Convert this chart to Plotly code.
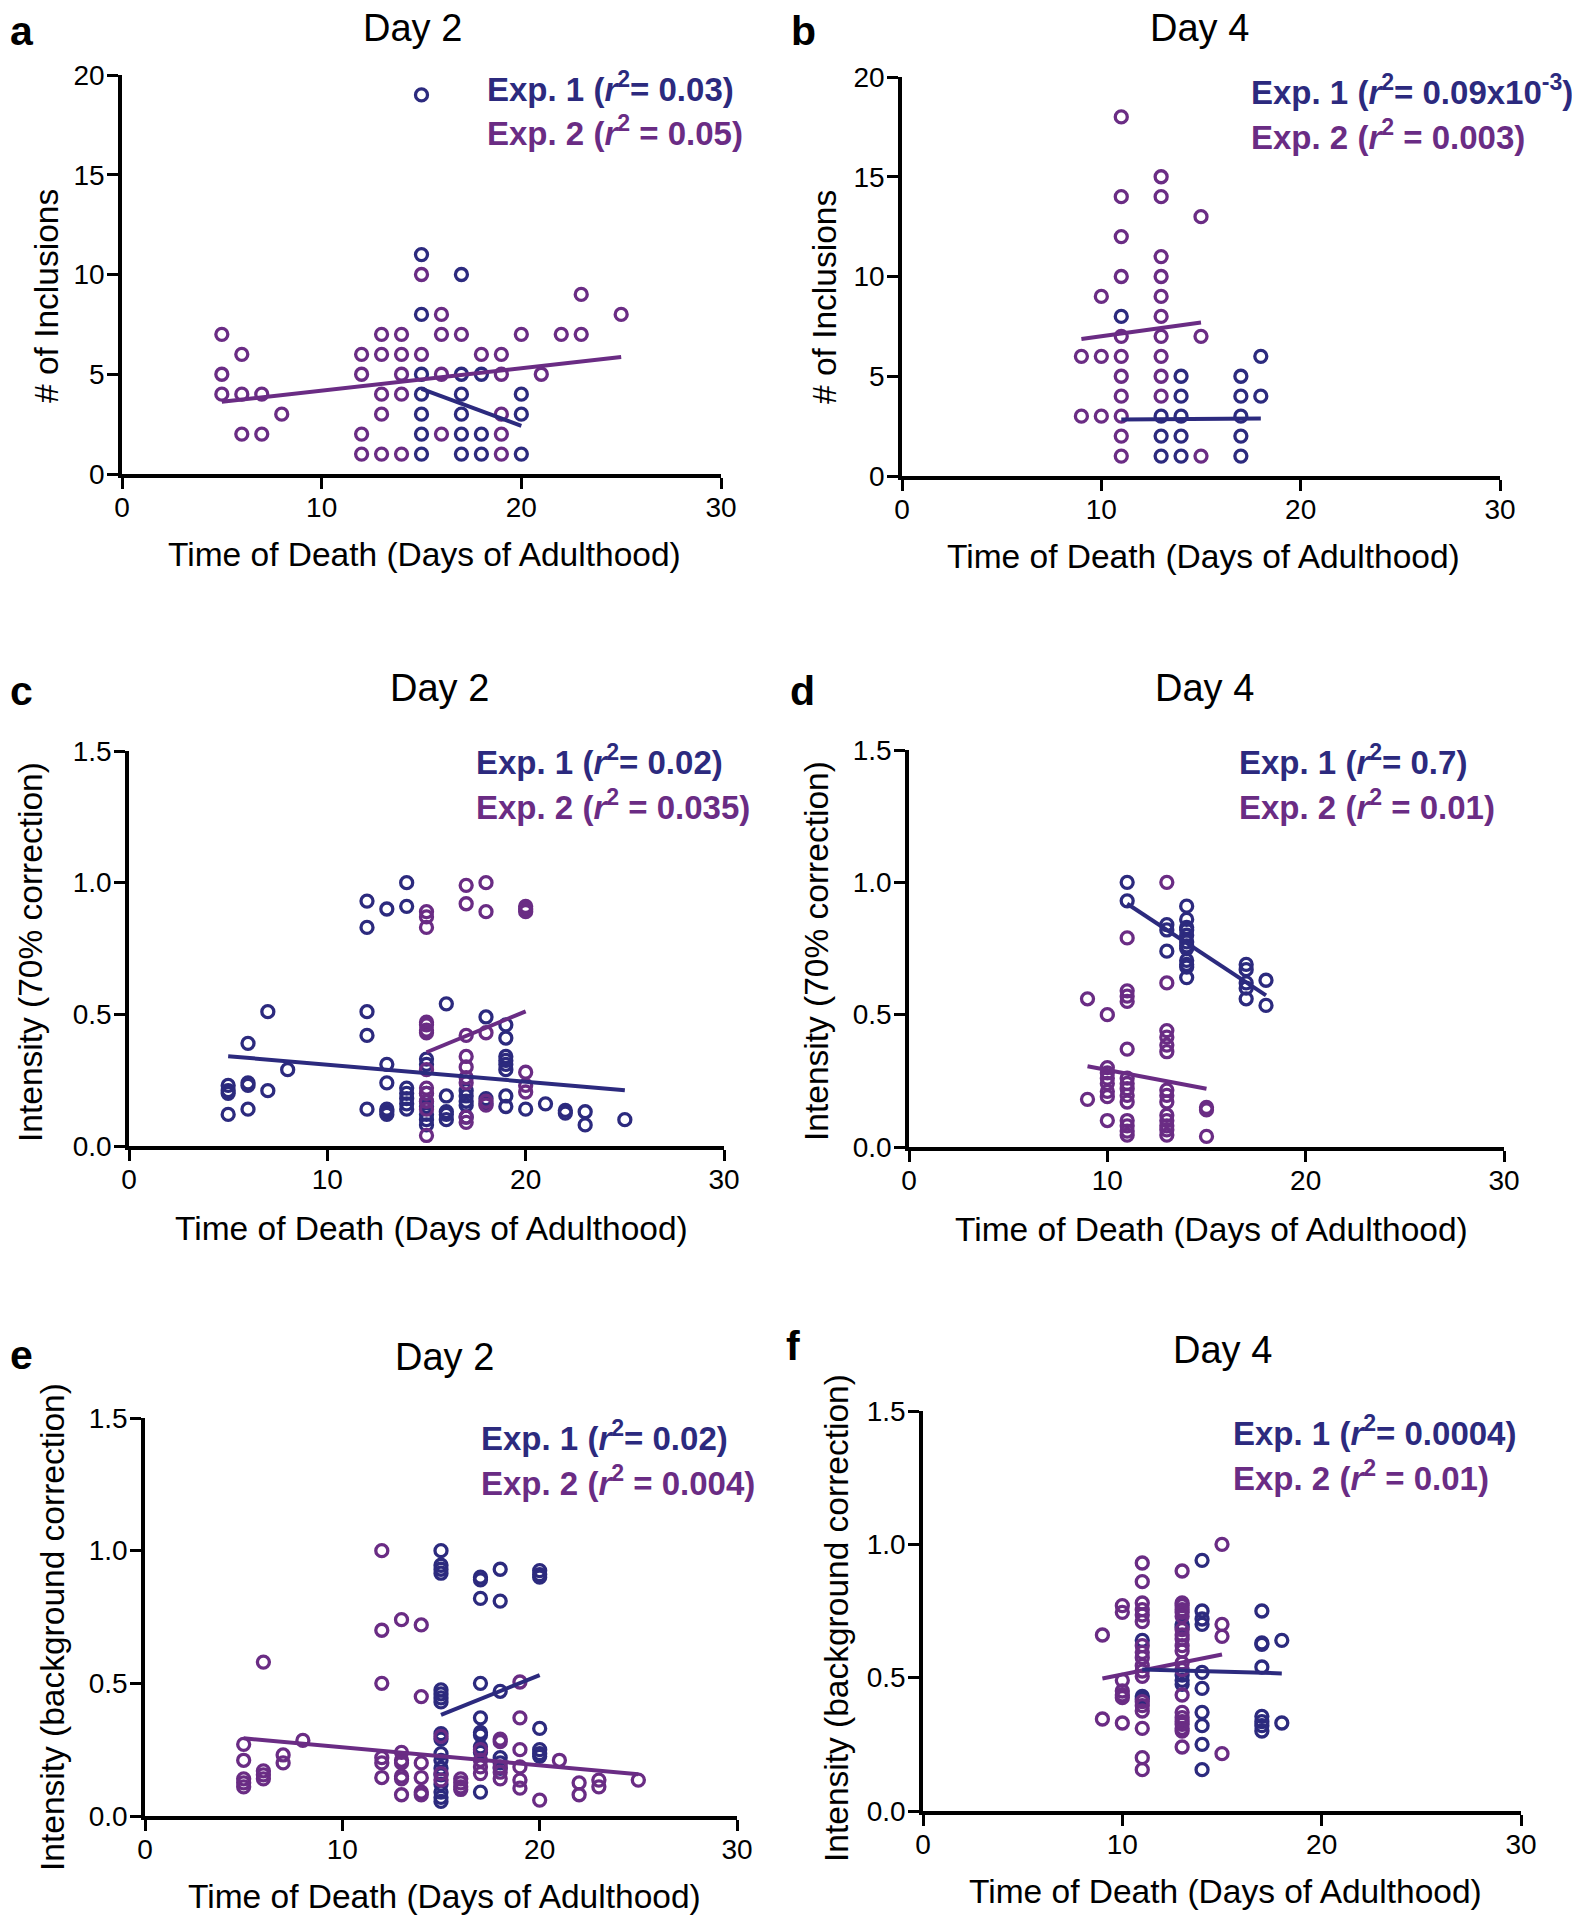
import plotly.graph_objects as go

# ---------------- data ----------------
X_TICKS = [0, 10, 20, 30]
Y_TICKS_COUNT = [0, 5, 10, 15, 20]
Y_TICKS_INT = [0.0, 0.5, 1.0, 1.5]
Y_TICKTEXT_INT = ["0.0", "0.5", "1.0", "1.5"]

# Panel a (Day 2, # of inclusions)
A1_X = [15, 15, 15, 15, 15, 15, 15, 15, 17, 17, 17, 17, 17, 17, 18, 18, 18, 20, 20, 20]
A1_Y = [19, 11, 8, 5, 4, 3, 2, 1, 10, 5, 4, 3, 2, 1, 5, 2, 1, 4, 3, 1]
A2_X = [5, 5, 5, 6, 6, 6, 7, 7, 8, 12, 12, 12, 12, 13, 13, 13, 13, 13, 14, 14, 14, 14, 14,
        15, 15, 16, 16, 16, 16, 17, 18, 19, 19, 19, 19, 19, 20, 21, 22, 23, 23, 25]
A2_Y = [7, 5, 4, 6, 4, 2, 4, 2, 3, 6, 5, 2, 1, 7, 6, 4, 3, 1, 7, 6, 5, 4, 1,
        10, 6, 8, 7, 5, 2, 7, 6, 6, 5, 3, 2, 1, 7, 5, 7, 9, 7, 8]
A1_FIT_X = [15, 20]
A1_FIT_Y = [4.27, 2.41]
A2_FIT_X = [5, 25]
A2_FIT_Y = [3.62, 5.86]

# Panel b (Day 4, # of inclusions)
B1_X = [11, 13, 13, 13, 14, 14, 14, 14, 14, 17, 17, 17, 17, 17, 18, 18]
B1_Y = [8, 3, 2, 1, 5, 4, 3, 2, 1, 5, 4, 3, 2, 1, 6, 4]
B2_X = [9, 9, 10, 10, 10, 11, 11, 11, 11, 11, 11, 11, 11, 11, 11, 11,
        13, 13, 13, 13, 13, 13, 13, 13, 13, 13, 15, 15, 15]
B2_Y = [6, 3, 9, 6, 3, 18, 14, 12, 10, 7, 6, 5, 4, 3, 2, 1,
        15, 14, 11, 10, 9, 8, 7, 6, 5, 4, 13, 7, 1]
B1_FIT_X = [11, 18]
B1_FIT_Y = [2.83, 2.88]
B2_FIT_X = [9, 15]
B2_FIT_Y = [6.87, 7.69]

# Panel c (Day 2, intensity 70% correction)
C1_X = [5, 5, 5, 5, 6, 6, 6, 6, 7, 7, 8,
        12, 12, 12, 12, 12, 13, 13, 13, 13, 13, 13,
        14, 14, 14, 14, 14, 14, 14, 15, 15, 15, 15, 15, 15, 15, 15,
        16, 16, 16, 16, 16, 17, 17, 17, 17, 17, 18, 18, 18,
        19, 19, 19, 19, 19, 19, 19, 19, 20, 21, 22, 22, 23, 23, 25]
C1_Y = [0.23, 0.21, 0.20, 0.12, 0.39, 0.24, 0.23, 0.14, 0.51, 0.21, 0.29,
        0.93, 0.83, 0.51, 0.42, 0.14, 0.90, 0.31, 0.24, 0.14, 0.13, 0.12,
        1.00, 0.91, 0.22, 0.20, 0.18, 0.16, 0.14, 0.33, 0.31, 0.20, 0.17, 0.15, 0.12, 0.10, 0.08,
        0.54, 0.19, 0.13, 0.12, 0.10, 0.21, 0.19, 0.17, 0.155, 0.11, 0.49, 0.18, 0.16,
        0.46, 0.41, 0.34, 0.325, 0.31, 0.29, 0.19, 0.15, 0.14, 0.16, 0.135, 0.125, 0.13, 0.08, 0.10]
C2_X = [15, 15, 15, 15, 15, 15, 15, 15, 15, 15, 15, 15, 15,
        17, 17, 17, 17, 17, 17, 17, 17, 17,
        18, 18, 18, 18, 18, 20, 20, 20, 20, 20, 20]
C2_Y = [0.89, 0.87, 0.83, 0.47, 0.46, 0.44, 0.43, 0.29, 0.22, 0.20, 0.17, 0.14, 0.04,
        0.99, 0.92, 0.42, 0.34, 0.30, 0.26, 0.24, 0.11, 0.09,
        1.00, 0.89, 0.43, 0.17, 0.155, 0.91, 0.90, 0.89, 0.28, 0.23, 0.205]
C1_FIT_X = [5, 25]
C1_FIT_Y = [0.341, 0.212]
C2_FIT_X = [15, 20]
C2_FIT_Y = [0.356, 0.511]

# Panel d (Day 4, intensity 70% correction)
D1_X = [11, 11, 13, 13, 13, 14, 14, 14, 14, 14, 14, 14, 14, 14, 14, 14, 14,
        17, 17, 17, 17, 17, 18, 18]
D1_Y = [1.00, 0.93, 0.84, 0.82, 0.74, 0.91, 0.86, 0.83, 0.82, 0.80, 0.775, 0.76, 0.75, 0.705, 0.69, 0.68, 0.64,
        0.69, 0.67, 0.62, 0.60, 0.56, 0.63, 0.535]
D2_X = [9, 9, 10, 10, 10, 10, 10, 10, 10, 10,
        11, 11, 11, 11, 11, 11, 11, 11, 11, 11, 11, 11, 11, 11,
        13, 13, 13, 13, 13, 13, 13, 13, 13, 13, 13, 13, 13, 13, 15, 15, 15]
D2_Y = [0.56, 0.18, 0.50, 0.30, 0.28, 0.26, 0.24, 0.21, 0.19, 0.10,
        0.79, 0.59, 0.57, 0.55, 0.37, 0.26, 0.24, 0.22, 0.195, 0.17, 0.10, 0.08, 0.06, 0.045,
        1.00, 0.62, 0.44, 0.415, 0.385, 0.36, 0.215, 0.195, 0.17, 0.12, 0.10, 0.08, 0.065, 0.045,
        0.15, 0.14, 0.04]
D1_FIT_X = [11, 18]
D1_FIT_Y = [0.919, 0.573]
D2_FIT_X = [9, 15]
D2_FIT_Y = [0.305, 0.22]

# Panel e (Day 2, intensity background correction)
E1_X = [15] * 18 + [17] * 10 + [18] * 6 + [20] * 7
E1_Y = [1.00, 0.945, 0.93, 0.915, 0.475, 0.46, 0.445, 0.43, 0.31, 0.29, 0.235, 0.21, 0.18, 0.155, 0.12, 0.09, 0.07, 0.055,
        0.90, 0.89, 0.82, 0.50, 0.37, 0.315, 0.305, 0.26, 0.24, 0.09,
        0.93, 0.81, 0.47, 0.22, 0.20, 0.18,
        0.925, 0.91, 0.90, 0.33, 0.25, 0.235, 0.225]
E2_X = [5, 5, 5, 5, 5, 6, 6, 6, 6, 7, 7, 8,
        12, 12, 12, 12, 12, 12, 13, 13, 13, 13, 13, 13, 13,
        14, 14, 14, 14, 14, 14, 15, 15, 15, 16, 16, 16, 16,
        17, 17, 17, 17, 18, 18, 18, 18, 18, 19, 19, 19, 19, 19, 19,
        20, 21, 22, 22, 23, 23, 25]
E2_Y = [0.27, 0.21, 0.14, 0.125, 0.11, 0.58, 0.17, 0.155, 0.14, 0.23, 0.20, 0.285,
        1.00, 0.70, 0.50, 0.22, 0.20, 0.145, 0.74, 0.24, 0.21, 0.20, 0.15, 0.14, 0.08,
        0.72, 0.45, 0.20, 0.145, 0.09, 0.08, 0.30, 0.16, 0.135, 0.14, 0.125, 0.11, 0.10,
        0.25, 0.21, 0.185, 0.16, 0.29, 0.28, 0.185, 0.165, 0.14, 0.505, 0.37, 0.25, 0.185, 0.135, 0.105,
        0.06, 0.21, 0.125, 0.08, 0.135, 0.11, 0.135]
E1_FIT_X = [15, 20]
E1_FIT_Y = [0.381, 0.531]
E2_FIT_X = [5, 25]
E2_FIT_Y = [0.293, 0.157]

# Panel f (Day 4, intensity background correction)
F1_X = [11, 11, 11, 13, 13, 13, 13, 13,
        14, 14, 14, 14, 14, 14, 14, 14, 14, 14,
        17, 17, 17, 17, 17, 17, 17, 17, 18, 18]
F1_Y = [0.64, 0.43, 0.42, 0.70, 0.69, 0.51, 0.49, 0.475,
        0.94, 0.75, 0.72, 0.70, 0.52, 0.46, 0.37, 0.32, 0.25, 0.155,
        0.75, 0.63, 0.625, 0.54, 0.355, 0.335, 0.32, 0.30, 0.64, 0.33]
F2_X = [9, 9] + [10] * 7 + [11] * 18 + [13] * 21 + [15] * 4
F2_Y = [0.66, 0.345,
        0.77, 0.745, 0.49, 0.45, 0.435, 0.425, 0.33,
        0.93, 0.86, 0.78, 0.755, 0.735, 0.71, 0.62, 0.595, 0.575, 0.545, 0.525, 0.505, 0.41, 0.395, 0.375, 0.31, 0.20, 0.155,
        0.90, 0.78, 0.77, 0.755, 0.745, 0.73, 0.68, 0.66, 0.645, 0.62, 0.60, 0.555, 0.53, 0.435, 0.37, 0.35, 0.335, 0.325, 0.31, 0.30, 0.24,
        1.00, 0.70, 0.655, 0.215]
F1_FIT_X = [11, 18]
F1_FIT_Y = [0.531, 0.516]
F2_FIT_X = [9, 15]
F2_FIT_Y = [0.497, 0.587]

TITLES = ["Day 2", "Day 4", "Day 2", "Day 4", "Day 2", "Day 4"]
LETTERS = ["a", "b", "c", "d", "e", "f"]
X_TITLE = "Time of Death (Days of Adulthood)"
Y_TITLES = ["# of Inclusions", "# of Inclusions",
            "Intensity (70% correction)", "Intensity (70% correction)",
            "Intensity (background correction)", "Intensity (background correction)"]
R2_EXP1 = ["0.03", "0.09x10<sup>-3</sup>", "0.02", "0.7", "0.02", "0.0004"]
R2_EXP2 = ["0.05", "0.003", "0.035", "0.01", "0.004", "0.01"]

SERIES = [
    (A1_X, A1_Y, A2_X, A2_Y, A1_FIT_X, A1_FIT_Y, A2_FIT_X, A2_FIT_Y),
    (B1_X, B1_Y, B2_X, B2_Y, B1_FIT_X, B1_FIT_Y, B2_FIT_X, B2_FIT_Y),
    (C1_X, C1_Y, C2_X, C2_Y, C1_FIT_X, C1_FIT_Y, C2_FIT_X, C2_FIT_Y),
    (D1_X, D1_Y, D2_X, D2_Y, D1_FIT_X, D1_FIT_Y, D2_FIT_X, D2_FIT_Y),
    (E1_X, E1_Y, E2_X, E2_Y, E1_FIT_X, E1_FIT_Y, E2_FIT_X, E2_FIT_Y),
    (F1_X, F1_Y, F2_X, F2_Y, F1_FIT_X, F1_FIT_Y, F2_FIT_X, F2_FIT_Y),
]

# ---------------- layout geometry (pixels, in screenshot coordinates) ----------------
W, H = 1580, 1920
OFF = 8  # page body margin offset of the figure inside the browser window
C1 = "#2C2A7E"
C2 = "#6A2C84"
FONT = "Liberation Sans, Arial, Helvetica, sans-serif"

# plot-area pixel boxes: left, right, top, bottom
BOXES = [
    (122, 721, 75, 474),
    (902, 1500, 77, 476),
    (129, 724, 751, 1146),
    (909, 1504, 750, 1147),
    (145, 737, 1418, 1816),
    (923, 1521, 1411, 1811),
]
TITLE_POS = [(413, 28), (1199, 28), (439, 688), (1204, 688), (444, 1357), (1222, 1350)]
LETTER_POS = [(8, 31), (789, 31), (8, 691), (788, 691), (8, 1355), (784, 1346)]
XT_POS = [(424, 554), (1203, 556), (431, 1228), (1211, 1229), (445, 1896), (1225, 1891)]
YT_POS = [(46, 296), (824, 297), (30, 952), (816, 951), (52, 1627), (836, 1618)]
EXP_POS = [((485, 87), (485, 131)), ((1249, 90), (1249, 135)),
           ((474, 760), (474, 805)), ((1237, 760), (1237, 805)),
           ((479, 1436), (479, 1481)), ((1231, 1431), (1231, 1476))]


def fx(x):
    return (x - OFF) / W


def fy(y):
    return 1 - (y - OFF) / H


fig = go.Figure()
layout = {}
annotations = []

for i in range(6):
    n = i + 1
    sfx = "" if n == 1 else str(n)
    xa, ya = "x" + sfx, "y" + sfx
    l, r, t, b = BOXES[i]
    count_panel = i < 2
    layout["xaxis" + sfx] = dict(
        domain=[fx(l), fx(r)], range=[0, 30], anchor=ya,
        tickvals=X_TICKS, ticktext=[str(v) for v in X_TICKS],
        showline=True, linecolor="black", linewidth=3.5,
        ticks="outside", ticklen=11, tickwidth=3, tickcolor="black",
        showgrid=False, zeroline=False, ticklabelstandoff=-5, automargin=False,
        tickfont=dict(family=FONT, size=28, color="black"),
    )
    layout["yaxis" + sfx] = dict(
        domain=[fy(b), fy(t)], range=[0, 20] if count_panel else [0, 1.5], anchor=xa,
        tickvals=Y_TICKS_COUNT if count_panel else Y_TICKS_INT,
        ticktext=[str(v) for v in Y_TICKS_COUNT] if count_panel else Y_TICKTEXT_INT,
        showline=True, linecolor="black", linewidth=3.5,
        ticks="outside", ticklen=11, tickwidth=3, tickcolor="black",
        showgrid=False, zeroline=False, ticklabelstandoff=-3, automargin=False,
        tickfont=dict(family=FONT, size=28, color="black"),
    )
    x1, y1, x2, y2, f1x, f1y, f2x, f2y = SERIES[i]
    mk = dict(symbol="circle-open", size=12)
    fig.add_trace(go.Scatter(x=x1, y=y1, mode="markers", xaxis=xa, yaxis=ya, showlegend=False,
                             cliponaxis=False,
                             marker=dict(**mk, color=C1, line=dict(width=3.3, color=C1))))
    fig.add_trace(go.Scatter(x=x2, y=y2, mode="markers", xaxis=xa, yaxis=ya, showlegend=False,
                             cliponaxis=False,
                             marker=dict(**mk, color=C2, line=dict(width=3.3, color=C2))))
    fig.add_trace(go.Scatter(x=f2x, y=f2y, mode="lines", xaxis=xa, yaxis=ya, showlegend=False,
                             line=dict(color=C2, width=4)))
    fig.add_trace(go.Scatter(x=f1x, y=f1y, mode="lines", xaxis=xa, yaxis=ya, showlegend=False,
                             line=dict(color=C1, width=4)))

    # panel title
    tx, ty = TITLE_POS[i]
    annotations.append(dict(x=fx(tx), y=fy(ty), xref="paper", yref="paper", text=TITLES[i],
                            showarrow=False, xanchor="center", yanchor="middle",
                            font=dict(family=FONT, size=38, color="black")))
    # panel letter
    lx, ly = LETTER_POS[i]
    annotations.append(dict(x=fx(lx), y=fy(ly), xref="paper", yref="paper", text="<b>%s</b>" % LETTERS[i],
                            showarrow=False, xanchor="left", yanchor="middle",
                            font=dict(family=FONT, size=41, color="black")))
    # axis titles
    ax_, ay_ = XT_POS[i]
    annotations.append(dict(x=fx(ax_), y=fy(ay_), xref="paper", yref="paper", text=X_TITLE,
                            showarrow=False, xanchor="center", yanchor="middle",
                            font=dict(family=FONT, size=33.5, color="black")))
    bx_, by_ = YT_POS[i]
    annotations.append(dict(x=fx(bx_), y=fy(by_), xref="paper", yref="paper", text=Y_TITLES[i],
                            showarrow=False, xanchor="center", yanchor="middle", textangle=-90,
                            font=dict(family=FONT, size=33.5, color="black")))
    # r^2 labels
    (e1x, e1y), (e2x, e2y) = EXP_POS[i]
    annotations.append(dict(x=fx(e1x), y=fy(e1y), xref="paper", yref="paper",
                            text="<b>Exp. 1 (<i>r</i><sup>2</sup>= %s)</b>" % R2_EXP1[i],
                            showarrow=False, xanchor="left", yanchor="middle",
                            font=dict(family=FONT, size=33, color=C1)))
    annotations.append(dict(x=fx(e2x), y=fy(e2y), xref="paper", yref="paper",
                            text="<b>Exp. 2 (<i>r</i><sup>2</sup> = %s)</b>" % R2_EXP2[i],
                            showarrow=False, xanchor="left", yanchor="middle",
                            font=dict(family=FONT, size=33, color=C2)))

fig.update_layout(
    width=W, height=H,
    margin=dict(l=0, r=0, t=0, b=0, pad=0, autoexpand=False),
    paper_bgcolor="white", plot_bgcolor="white",
    annotations=annotations,
    showlegend=False,
    **layout,
)

fig.write_html("out.html")
